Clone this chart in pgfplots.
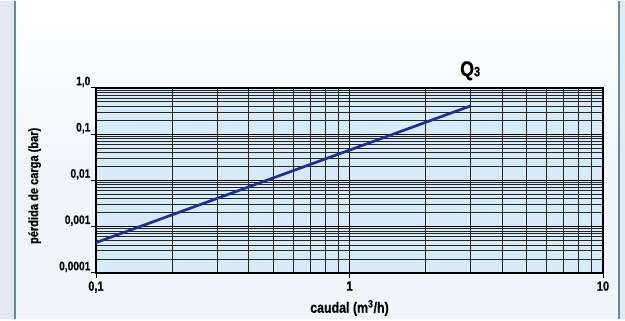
\documentclass[border=0pt]{standalone}
\usepackage{fontspec}
\setmainfont{Liberation Sans}
\newfontfamily\condfont{Liberation Sans}[FakeStretch=0.83, BoldFeatures={FakeBold=0.6}]
\usepackage{pgfplots}
\pgfplotsset{compat=1.18}
\definecolor{plotbg}{HTML}{D6EAF8}
\definecolor{pagebg}{HTML}{F1F5F9}
\definecolor{sidebg}{HTML}{E2E9EF}
\definecolor{edge}{HTML}{5C90A3}
\definecolor{curve}{HTML}{1E2F8E}
\begin{document}
\begin{tikzpicture}
\shade[top color=white, bottom color=pagebg, middle color=pagebg] (0,0) rectangle (468.75pt,238.5pt);
\fill[sidebg] (0,0) rectangle (11.25pt,238.5pt);
\fill[sidebg] (464.25pt,0) rectangle (468.75pt,238.5pt);
\draw[edge, line width=1.2pt] (11.25pt,0) -- (11.25pt,238.5pt);
\draw[edge, line width=1.2pt] (464.25pt,0) -- (464.25pt,238.5pt);
\begin{axis}[
  at={(72pt,34.5pt)}, anchor=south west,
  scale only axis, width=380.25pt, height=138.75pt,
  xmode=log, ymode=log,
  xmin=0.1, xmax=10, ymin=0.0001, ymax=1,
  axis background/.style={fill=plotbg},
  xtick={0.1,1,10}, xticklabels={{0,1},1,10},
  ytick={0.0001,0.001,0.01,0.1,1},
  yticklabels={{0,0001},{0,001},{0,01},{0,1},{1,0}},
  minor xtick={0.2,0.3,0.4,0.5,0.6,0.7,0.8,0.9,2,3,4,5,6,7,8,9},
  minor ytick={0.0002,0.0003,0.0004,0.0005,0.0006,0.0007,0.0008,0.0009,
               0.002,0.003,0.004,0.005,0.006,0.007,0.008,0.009,
               0.02,0.03,0.04,0.05,0.06,0.07,0.08,0.09,
               0.2,0.3,0.4,0.5,0.6,0.7,0.8,0.9},
  grid=both,
  major grid style={black, line width=0.6pt},
  minor grid style={black!85, line width=0.5pt},
  axis line style={line width=1.5pt},
  tick align=outside, tick pos=left,
  major tick length=3.75pt, minor tick length=0pt,
  tick style={black, line width=0.6pt},
  yticklabel style={font=\condfont\bfseries\fontsize{9.2}{10}\selectfont, anchor=south east, inner sep=0.3pt},
  xticklabel style={font=\condfont\bfseries\fontsize{10}{11}\selectfont, inner sep=2pt, yshift=-0.5pt},
  xlabel={caudal (m\textsuperscript{3}/h)},
  ylabel={pérdida de carga (bar)},
  xlabel style={font=\condfont\bfseries\fontsize{11.2}{12}\selectfont, at={(axis description cs:0.5,-0.19)}, anchor=center},
  ylabel style={font=\condfont\bfseries\fontsize{10}{11}\selectfont, at={(axis description cs:-0.121,0.47)}, anchor=center, rotate=0},
  clip=false,
]
\addplot[curve, line width=2pt] coordinates {(0.1,0.00045) (3,0.405)};
\node[font=\condfont\bfseries] at (axis description cs:0.738,1.092)
  {{\fontsize{16}{16}\selectfont Q}{\fontsize{10}{10}\selectfont 3}};
\end{axis}
\end{tikzpicture}
\end{document}
